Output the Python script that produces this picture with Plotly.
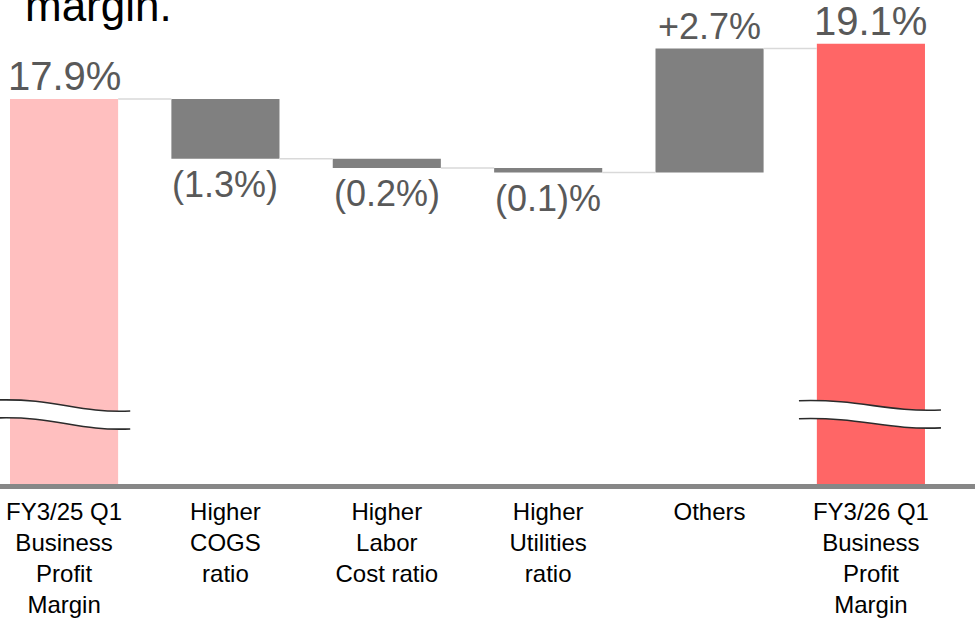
import plotly.graph_objects as go

# Business profit margin bridge (percent of sales)
categories = [
    "FY3/25 Q1<br>Business<br>Profit<br>Margin",
    "Higher<br>COGS<br>ratio",
    "Higher<br>Labor<br>Cost ratio",
    "Higher<br>Utilities<br>ratio",
    "Others",
    "FY3/26 Q1<br>Business<br>Profit<br>Margin",
]
measures = ["total", "delta", "delta", "delta", "delta", "total"]
values = [17.9, -1.3, -0.2, -0.1, 2.7, 19.1]
value_labels = ["17.9%", "(1.3%)", "(0.2%)", "(0.1)%", "+2.7%", "19.1%"]
bar_colors = ["#ffbfbf", "#808080", "#808080", "#808080", "#808080", "#ff6666"]

FONT = "Liberation Sans, Arial, sans-serif"
LABEL_GREY = "#595959"
BAR_W = 0.67

# Running level for each bar: base and top
bases, tops, levels = [], [], []
level = 0.0
for m, v in zip(measures, values):
    if m == "total":
        base, top = 0.0, v
        level = v
    else:
        base, top = level, level + v
        level = top
    bases.append(min(base, top))
    tops.append(max(base, top))
    levels.append(level)

xs = list(range(len(categories)))

fig = go.Figure()
fig.add_trace(go.Bar(
    x=xs,
    y=[t - b for t, b in zip(tops, bases)],
    base=bases,
    width=BAR_W,
    marker=dict(color=bar_colors, line=dict(width=0)),
    hoverinfo="skip",
    showlegend=False,
))

# Connector lines between neighbouring bars
cx, cy = [], []
for i in range(len(xs) - 1):
    cx += [xs[i] + BAR_W / 2, xs[i + 1] - BAR_W / 2, None]
    cy += [levels[i], levels[i], None]
fig.add_trace(go.Scatter(
    x=cx, y=cy, mode="lines",
    line=dict(color="#d9d9d9", width=1.5),
    hoverinfo="skip", showlegend=False,
))

# Value labels: above totals and increases, below decreases
annotations = []
for i, (m, v, lab) in enumerate(zip(measures, values, value_labels)):
    above = (m == "total") or v > 0
    size = 40 if m == "total" else 36
    annotations.append(dict(
        x=xs[i], xref="x",
        y=tops[i] if above else bases[i], yref="y",
        text=lab, showarrow=False,
        xanchor="center", yanchor="bottom" if above else "top",
        yshift=-1 if above else -3,
        font=dict(family=FONT, size=size, color=LABEL_GREY),
    ))

# Tail of the slide heading above the chart
annotations.append(dict(
    x=23 / 975, xref="paper", y=1.044, yref="paper",
    text="margin.", showarrow=False, xanchor="left", yanchor="top",
    font=dict(family=FONT, size=44, color="#000000"),
))

# Axis-break marks across the two total bars
shapes = []
band = 0.39
for x0, x1, ya, yb in [(-0.42, 0.41, 11.356, 11.117), (4.554, 5.434, 11.34, 11.14)]:
    w = x1 - x0
    c1x, c2x = x0 + 0.45 * w, x0 + 0.6 * w
    upper = f"M {x0},{ya} C {c1x},{ya + 0.04} {c2x},{yb - 0.05} {x1},{yb}"
    lower_back = f"L {x1},{yb - band} C {c2x},{yb - band - 0.05} {c1x},{ya - band + 0.04} {x0},{ya - band} Z"
    shapes.append(dict(type="path", xref="x", yref="y", path=upper + " " + lower_back,
                       fillcolor="white", line=dict(width=0), layer="above"))
    shapes.append(dict(type="path", xref="x", yref="y", path=upper,
                       line=dict(color="#2b2b2b", width=1.6), layer="above"))
    lower = f"M {x0},{ya - band} C {c1x},{ya - band + 0.04} {c2x},{yb - band - 0.05} {x1},{yb - band}"
    shapes.append(dict(type="path", xref="x", yref="y", path=lower,
                       line=dict(color="#2b2b2b", width=1.6), layer="above"))

fig.update_layout(
    width=975, height=619,
    margin=dict(l=0, r=0, t=0, b=135, autoexpand=False),
    paper_bgcolor="white", plot_bgcolor="white",
    font=dict(family=FONT),
    bargap=0.33,
    annotations=annotations,
    shapes=shapes,
    xaxis=dict(
        range=[-0.397, 5.645],
        tickmode="array", tickvals=xs, ticktext=categories,
        tickfont=dict(family=FONT, size=24, color="#000000"),
        showgrid=False, zeroline=False,
        showline=True, linecolor="#878787", linewidth=5,
        ticks="", ticklabelstandoff=2,
        automargin=False,
        fixedrange=True,
    ),
    yaxis=dict(
        range=[9.53, 20.052],
        visible=False, showgrid=False, zeroline=False,
        automargin=False,
        fixedrange=True,
    ),
)

fig.write_html("out.html")
